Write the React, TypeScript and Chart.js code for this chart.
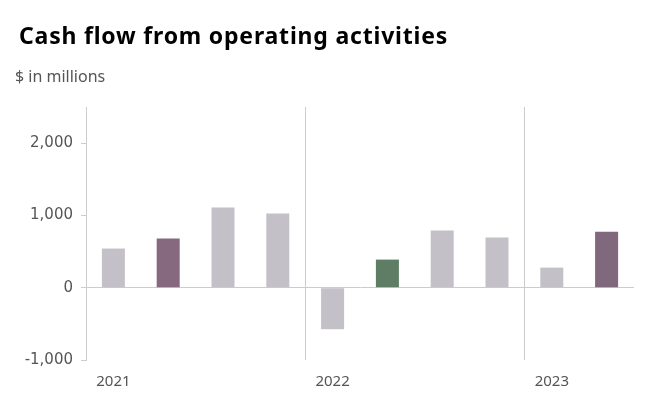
import React, { useEffect, useRef } from "react";
import { Chart, registerables } from "chart.js";

Chart.register(...registerables);

const quarters = ["Q1 2021", "Q2 2021", "Q3 2021", "Q4 2021", "Q1 2022", "Q2 2022", "Q3 2022", "Q4 2022", "Q1 2023", "Q2 2023"];
const tickLabels = ["2021", "", "", "", "2022", "", "", "", "2023", ""];
const cashFlow = [542, 681, 1111, 1028, -574, 389, 792, 694, 278, 774];
const barColors = ["#c4c0c8", "#86697f", "#c4c0c8", "#c4c0c8", "#c4c0c8", "#5f7c65", "#c4c0c8", "#c4c0c8", "#c4c0c8", "#80697c"];
const yTicks = [-1000, 0, 1000, 2000];

export default function App() {
  const ref = useRef<HTMLCanvasElement | null>(null);
  useEffect(() => {
    if (!ref.current) return;
    const chart = new Chart(ref.current, {
      type: "bar",
      data: {
        labels: quarters,
        datasets: [
          {
            data: cashFlow,
            backgroundColor: barColors,
            barPercentage: 0.42,
            categoryPercentage: 1,
          },
        ],
      },
      options: {
        animation: false,
        responsive: false,
        layout: { padding: { top: 107, right: 33, left: 0, bottom: 0 } },
        plugins: { legend: { display: false }, tooltip: { enabled: false } },
        scales: {
          x: {
            offset: true,
            grid: {
              offset: true,
              drawTicks: false,
              color: (ctx: any) => (ctx.index === 4 || ctx.index === 8 ? "#cccccc" : "rgba(0,0,0,0)"),
            },
            border: { display: false },
            ticks: {
              autoSkip: false,
              maxRotation: 0,
              padding: 13,
              color: "#555555",
              font: { family: "Noto Sans", size: 15 },
              callback: (_v: any, i: number) => tickLabels[i],
            },
            afterFit: (s: any) => {
              s.height = 48;
            },
          },
          y: {
            min: -1000,
            max: 2500,
            afterBuildTicks: (s: any) => {
              s.ticks = yTicks.map((v) => ({ value: v }));
            },
            grid: {
              drawTicks: true,
              tickLength: 5,
              tickColor: "#cccccc",
              color: (ctx: any) => (ctx.tick && ctx.tick.value === 0 ? "#cccccc" : "rgba(0,0,0,0)"),
            },
            border: { display: true, color: "#cccccc" },
            ticks: {
              padding: 8,
              color: "#555555",
              font: { family: "DejaVu Sans", size: 15 },
              callback: (v: any) => Number(v).toLocaleString("en-US"),
            },
            afterFit: (s: any) => {
              s.width = 86;
            },
          },
        },
      },
    });
    return () => chart.destroy();
  }, []);
  return (
    <div style={{ position: "fixed", left: 0, top: 0, width: 667, height: 408, background: "#fff" }}>
      <canvas ref={ref} width={667} height={408} style={{ position: "absolute", left: 0, top: 0 }} />
      <div
        style={{
          position: "absolute",
          left: 19,
          top: 20,
          fontFamily: "Noto Sans",
          fontWeight: 700,
          fontSize: 23,
          letterSpacing: "0.8px",
          color: "#000",
          whiteSpace: "nowrap",
          lineHeight: "30px",
        }}
      >
        Cash flow from operating activities
      </div>
      <div
        style={{
          position: "absolute",
          left: 15,
          top: 66,
          fontFamily: "Noto Sans",
          fontSize: 16,
          color: "#555555",
          whiteSpace: "nowrap",
          lineHeight: "20px",
        }}
      >
        $ in millions
      </div>
    </div>
  );
}
